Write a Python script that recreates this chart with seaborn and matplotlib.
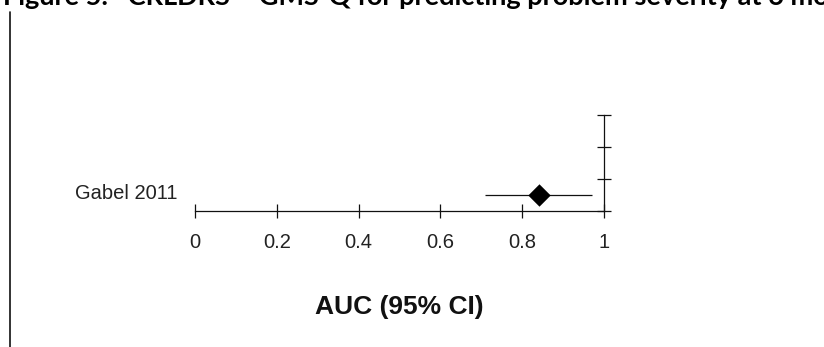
import matplotlib
matplotlib.use("Agg")
import matplotlib.pyplot as plt
from matplotlib.lines import Line2D
import seaborn as sns
import pandas as pd

# ---- data ----
studies = ["Gabel 2011"]
auc = [0.84]
ci_lower = [0.71]
ci_upper = [0.97]
x_ticks = [0, 0.2, 0.4, 0.6, 0.8, 1]
x_tick_labels = ["0", "0.2", "0.4", "0.6", "0.8", "1"]
row_ticks = [0, 1, 2, 3]
title_text = "Figure 5.   CRLDRS \u2013 GMS-Q for predicting problem severity at 6 months"
x_label = "AUC (95% CI)"

sns.set_theme(style="white")
plt.rcParams["font.family"] = ["Liberation Sans", "DejaVu Sans"]

W, H = 824, 347
fig = plt.figure(figsize=(W / 100, H / 100), dpi=100)
fig.patch.set_facecolor("white")

# axes placement in pixels
x0_px, x1_px = 195, 604
ybot_px, ytop_px = 211, 115
ax = fig.add_axes([x0_px / W, (H - ybot_px) / H, (x1_px - x0_px) / W, (ybot_px - ytop_px) / H])
ax.set_facecolor("none")

df = pd.DataFrame({"study": studies, "auc": auc, "lo": ci_lower, "hi": ci_upper})
df["row"] = [0.5 + i for i in range(len(df))]

ax.hlines(df["row"], df["lo"], df["hi"], color="#111111", linewidth=0.9, zorder=2)
sns.scatterplot(data=df, x="auc", y="row", marker="D", s=130, color="black",
                linewidth=0, ax=ax, legend=False, zorder=3)

ax.set_xlim(0, 1)
ax.set_ylim(0, 3)
ax.set_xlabel("")
ax.set_ylabel("")

for s in ["left", "top"]:
    ax.spines[s].set_visible(False)
for s in ["bottom", "right"]:
    ax.spines[s].set_visible(True)
    ax.spines[s].set_color("#111111")
    ax.spines[s].set_linewidth(0.9)

ax.set_xticks(x_ticks)
ax.set_xticklabels(x_tick_labels)
ax.tick_params(axis="x", direction="inout", length=10, width=0.9, color="#111111",
               labelsize=14.5, labelcolor="#222222", pad=11, bottom=True)

ax.yaxis.tick_right()
ax.set_yticks(row_ticks)
ax.set_yticklabels([])
ax.tick_params(axis="y", direction="inout", length=10, width=0.9, color="#111111",
               right=True, left=False)

for i, name in enumerate(df["study"]):
    ax.annotate(name, xy=(0, df["row"][i]), xycoords=("axes fraction", "data"),
                xytext=(-12.5, 1), textcoords="offset points", ha="right", va="center",
                fontsize=14.5, color="#222222")

fig.text((x0_px + x1_px) / 2 / W, 1 - 307 / H, x_label, ha="center", va="center",
         fontsize=19, fontweight="bold", color="#111111")

fig.text(3 / W, 1 - 5 / H, title_text, ha="left", va="baseline", fontsize=19.5,
         fontweight="bold", family=["Lato", "DejaVu Sans"], color="black")

fig.add_artist(Line2D([10 / W, 10 / W], [0, 1 - 12 / H], transform=fig.transFigure,
                      color="#111111", linewidth=1.2))

fig.savefig("out.png", dpi=100)
